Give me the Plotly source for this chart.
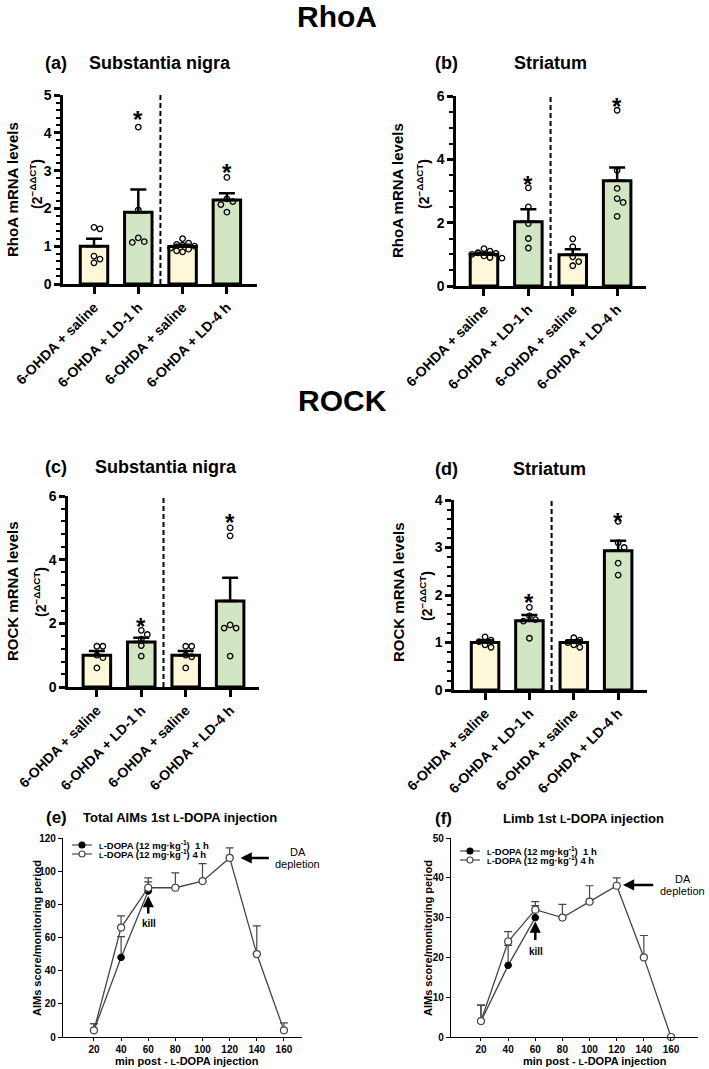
import numpy as np
import plotly.graph_objects as go

W, H = 709, 1069
FONT = "Liberation Sans, Arial, Helvetica, sans-serif"

# ---------------- data ----------------
categories = ["6-OHDA + saline", "6-OHDA + LD-1 h", "6-OHDA + saline", "6-OHDA + LD-4 h"]
bar_colors = ["#FDF8DA", "#D3E6C4", "#FDF8DA", "#D3E6C4"]

# (a) RhoA - Substantia nigra
a_mean = [1.00, 1.90, 0.99, 2.22]
a_sem = [0.20, 0.60, 0.05, 0.18]
a_pts = [[1.50, 1.46, 0.74, 0.66, 0.56],
         [4.15, 1.96, 1.22, 1.12, 1.10],
         [1.20, 1.08, 1.05, 1.03, 1.00, 0.95, 0.92, 0.88, 0.85],
         [2.82, 2.25, 2.18, 2.10, 1.90]]
a_star = [None, 4.50, None, 3.12]

# (b) RhoA - Striatum
b_mean = [1.00, 2.03, 0.99, 3.32]
b_sem = [0.05, 0.39, 0.17, 0.42]
b_pts = [[1.18, 1.10, 1.05, 1.03, 1.00, 0.95, 0.90, 0.88],
         [3.10, 2.50, 1.97, 1.50, 1.20],
         [1.49, 1.24, 0.92, 0.77, 0.64],
         [5.55, 3.65, 3.08, 2.76, 2.64, 2.20]]
b_star = [None, 3.39, None, 5.86]

# (c) ROCK - Substantia nigra
c_mean = [1.00, 1.41, 1.00, 2.70]
c_sem = [0.13, 0.14, 0.13, 0.73]
c_pts = [[1.28, 1.28, 1.00, 0.92, 0.60],
         [1.78, 1.65, 1.50, 1.30, 0.97],
         [1.28, 1.28, 1.00, 0.95, 0.60],
         [5.00, 4.75, 1.95, 1.85, 1.85, 0.97]]
c_star = [None, 2.10, None, 5.35]

# (d) ROCK - Striatum
d_mean = [1.00, 1.46, 1.00, 2.93]
d_sem = [0.05, 0.12, 0.05, 0.21]
d_pts = [[1.12, 1.05, 1.02, 0.95, 0.90],
         [1.74, 1.56, 1.48, 1.45, 1.09],
         [1.10, 1.05, 1.00, 0.95, 0.90],
         [3.55, 3.10, 3.00, 2.67, 2.42]]
d_star = [None, 1.96, None, 3.68]

# (e) / (f) AIMs time course
time_1h = [20, 40, 60]
time_4h = [20, 40, 60, 80, 100, 120, 140, 160]
e_1h = [4, 48, 88]
e_1h_err = [4, 12.5, 5.5]
e_4h = [4, 66, 90, 90, 94, 108, 50, 4]
e_4h_err = [4, 7, 6, 9, 10.5, 6, 17, 4.5]
f_1h = [4, 18, 30]
f_1h_err = [4, 5, 3]
f_4h = [4, 24, 32, 30, 34, 38, 20, 0]
f_4h_err = [4, 2.5, 2, 3.3, 4, 2, 5.5, 0]

x_ticks_time = [20, 40, 60, 80, 100, 120, 140, 160]

# ---------------- helpers ----------------
def PX(px):
    return px / W


def PY(py):
    return 1 - py / H


def sfx(i):
    return "" if i == 1 else str(i)


def swarm(values, xpx_per_unit, ypx_per_unit, diam=6.0):
    placed = []
    offs = []
    step = diam * 1.0
    cands = [0.0]
    for j in range(1, 8):
        cands += [j * step, -j * step]
    for v in values:
        yp = v * ypx_per_unit
        for c in cands:
            if all((c - px) ** 2 + (yp - py) ** 2 >= diam ** 2 for px, py in placed):
                placed.append((c, yp))
                offs.append(c / xpx_per_unit)
                break
    return offs

SC_L = "<span style='font-size:0.8em'>L</span>"

fig = go.Figure()
layout = dict(width=W, height=H, margin=dict(l=0, r=0, t=0, b=0, autoexpand=False),
              paper_bgcolor="white", plot_bgcolor="white", showlegend=False,
              font=dict(family=FONT, color="black"))
annotations = []
shapes = []

# ---------------- bar panels ----------------
bar_panels = [
    dict(mean=a_mean, sem=a_sem, pts=a_pts, star=a_star, ymax=5, dtick=1, minor=0.2,
         xd=(63, 257), yd=(284, 95), xr=(-0.70, 3.68)),
    dict(mean=b_mean, sem=b_sem, pts=b_pts, star=b_star, ymax=6, dtick=2, minor=0.5,
         xd=(456, 646), yd=(286, 96), xr=(-0.63, 3.65)),
    dict(mean=c_mean, sem=c_sem, pts=c_pts, star=c_star, ymax=6, dtick=2, minor=0.4,
         xd=(68, 259), yd=(687, 496), xr=(-0.65, 3.65)),
    dict(mean=d_mean, sem=d_sem, pts=d_pts, star=d_star, ymax=4, dtick=1, minor=0.2,
         xd=(454, 647), yd=(690, 500), xr=(-0.70, 3.65)),
]

xcat = list(range(len(categories)))
for i, p in enumerate(bar_panels, start=1):
    xa, ya = "x" + sfx(i), "y" + sfx(i)
    xpx = (p["xd"][1] - p["xd"][0]) / (p["xr"][1] - p["xr"][0])
    ypx = (p["yd"][0] - p["yd"][1]) / p["ymax"]
    fig.add_trace(go.Bar(
        x=xcat, y=p["mean"], width=0.62, xaxis=xa, yaxis=ya,
        marker=dict(color=bar_colors, line=dict(color="black", width=3)),
        error_y=dict(type="data", symmetric=False, array=p["sem"],
                     arrayminus=[0] * 4, color="black", thickness=2.5, width=8),
    ))
    px_, py_ = [], []
    for k, vals in enumerate(p["pts"]):
        offs = swarm(vals, xpx, ypx)
        px_ += [k + o for o in offs]
        py_ += vals
    fig.add_trace(go.Scatter(
        x=px_, y=py_, mode="markers", xaxis=xa, yaxis=ya, cliponaxis=False,
        marker=dict(symbol="circle-open", size=5.5, color="black", line=dict(width=1.3)),
    ))
    for k, s in enumerate(p["star"]):
        if s is not None:
            annotations.append(dict(x=k, y=s, xref=xa, yref=ya, text="*", showarrow=False,
                                    font=dict(size=24, family=FONT, weight="bold"),
                                    yshift=-6))
    shapes.append(dict(type="line", xref=xa, yref=ya + " domain", x0=1.5, x1=1.5, y0=0, y1=1,
                       line=dict(color="black", width=2, dash="5px,3px")))
    layout["xaxis" + sfx(i)] = dict(
        domain=[PX(p["xd"][0]), PX(p["xd"][1])], range=list(p["xr"]), anchor=ya,
        automargin=False,
        tickvals=xcat, ticktext=categories, tickangle=-45,
        ticks="outside", ticklen=7, tickwidth=2.5, tickcolor="black",
        showline=True, linewidth=2.5, linecolor="black",
        showgrid=False, zeroline=False,
        tickfont=dict(size=14, family=FONT, weight="bold"))
    layout["yaxis" + sfx(i)] = dict(
        domain=[PY(p["yd"][0]), PY(p["yd"][1])], range=[0, p["ymax"]], anchor=xa,
        automargin=False,
        tick0=0, dtick=p["dtick"], ticks="outside", ticklen=6, tickwidth=2.5,
        tickcolor="black",
        minor=dict(dtick=p["minor"], ticks="outside", ticklen=4, tickwidth=2, tickcolor="black"),
        showline=True, linewidth=2.5, linecolor="black",
        showgrid=False, zeroline=False,
        tickfont=dict(size=14, family=FONT, weight="bold"))

# ---------------- line panels ----------------
line_panels = [
    dict(y1=e_1h, e1=e_1h_err, y4=e_4h, e4=e_4h_err, ymax=120, dtick=20,
         xd=(63, 302), yd=(1037, 838), xr=(-2.8, 173.3)),
    dict(y1=f_1h, e1=f_1h_err, y4=f_4h, e4=f_4h_err, ymax=50, dtick=10,
         xd=(451, 698), yd=(1037, 838), xr=(-2.1, 179.9)),
]
LC = "#454545"
for j, p in enumerate(line_panels, start=5):
    xa, ya = "x" + sfx(j), "y" + sfx(j)
    fig.add_trace(go.Scatter(
        x=time_1h, y=p["y1"], mode="lines+markers", xaxis=xa, yaxis=ya, cliponaxis=False,
        line=dict(color=LC, width=1.3),
        marker=dict(symbol="circle", size=6.5, color="black", line=dict(color="black", width=1)),
        error_y=dict(type="data", symmetric=False, array=p["e1"], arrayminus=[0] * 3,
                     color=LC, thickness=1.2, width=4)))
    fig.add_trace(go.Scatter(
        x=time_4h, y=p["y4"], mode="lines+markers", xaxis=xa, yaxis=ya, cliponaxis=False,
        line=dict(color=LC, width=1.3),
        marker=dict(symbol="circle", size=7, color="white", line=dict(color=LC, width=1.2)),
        error_y=dict(type="data", symmetric=False, array=p["e4"], arrayminus=[0] * 8,
                     color=LC, thickness=1.2, width=4)))
    layout["xaxis" + sfx(j)] = dict(
        domain=[PX(p["xd"][0]), PX(p["xd"][1])], range=list(p["xr"]), anchor=ya,
        automargin=False,
        tickvals=x_ticks_time, ticks="outside", ticklen=3, tickwidth=1.2, tickcolor="black",
        showline=True, linewidth=1.3, linecolor="black", showgrid=False, zeroline=False,
        tickfont=dict(size=10, family=FONT, weight="bold"))
    layout["yaxis" + sfx(j)] = dict(
        domain=[PY(p["yd"][0]), PY(p["yd"][1])], range=[0, p["ymax"]], anchor=xa,
        automargin=False,
        tick0=0, dtick=p["dtick"], ticks="outside", ticklen=4, tickwidth=1.2, tickcolor="black",
        showline=True, linewidth=1.3, linecolor="black", showgrid=False, zeroline=False,
        tickfont=dict(size=10, family=FONT, weight="bold"))

# arrows and notes in (e) / (f)
notes = [
    dict(xa="x5", ya="y5", kill=(60, 85, 73.5, 68.5), da=(128, 150, 108), dat=(170, 111.5, 104.5)),
    dict(xa="x6", ya="y6", kill=(60, 29.0, 24.0, 21.6), da=(124.6, 148, 38.2), dat=(168.5, 39.7, 36.6)),
]
for n in notes:
    xa, ya = n["xa"], n["ya"]
    kx, ky, kty, ktext = n["kill"]
    annotations.append(dict(x=kx, y=ky, ax=kx, ay=kty, xref=xa, yref=ya, axref=xa, ayref=ya,
                            text="", showarrow=True, arrowhead=2, arrowsize=0.9, arrowwidth=2.5,
                            arrowcolor="black"))
    annotations.append(dict(x=kx + 0.5, y=ktext, xref=xa, yref=ya, text="kill", showarrow=False,
                            font=dict(size=10, family=FONT, weight="bold")))
    hx, tx, dy = n["da"]
    annotations.append(dict(x=hx, y=dy, ax=tx, ay=dy, xref=xa, yref=ya, axref=xa, ayref=ya,
                            text="", showarrow=True, arrowhead=2, arrowsize=0.9, arrowwidth=2.5,
                            arrowcolor="black"))
    dx, dy1, dy2 = n["dat"]
    annotations.append(dict(x=dx, y=dy1, xref=xa, yref=ya, text="DA", showarrow=False,
                            font=dict(size=11, family=FONT)))
    annotations.append(dict(x=dx, y=dy2, xref=xa, yref=ya, text="depletion", showarrow=False,
                            font=dict(size=11, family=FONT)))

# manual legends
leg_label_1h = SC_L + "-DOPA (12 mg·kg<sup>-1</sup>)  1 h"
leg_label_4h = SC_L + "-DOPA (12 mg·kg<sup>-1</sup>) 4 h"
for (lx0, lx1, mx, tx, r1, r2) in [(72, 92, 82, 97, 845, 854), (460, 480, 470, 485, 851, 860)]:
    for ry, filled, lab in [(r1, True, leg_label_1h), (r2, False, leg_label_4h)]:
        shapes.append(dict(type="line", xref="paper", yref="paper", x0=PX(lx0), x1=PX(lx1),
                           y0=PY(ry), y1=PY(ry), line=dict(color=LC, width=1.2)))
        shapes.append(dict(type="circle", xref="paper", yref="paper",
                           x0=PX(mx - 3), x1=PX(mx + 3), y0=PY(ry + 3), y1=PY(ry - 3),
                           fillcolor="black" if filled else "white",
                           line=dict(color="black" if filled else LC, width=1.1)))
        annotations.append(dict(x=PX(tx), y=PY(ry), xref="paper", yref="paper", text=lab,
                                xanchor="left", yanchor="middle", showarrow=False,
                                font=dict(size=9.5, family=FONT, weight="bold")))

# ---------------- titles / labels ----------------
def txt(x, y, s, size, bold=True, angle=0, xanchor="center"):
    annotations.append(dict(x=PX(x), y=PY(y), xref="paper", yref="paper", text=s,
                            showarrow=False, textangle=angle, xanchor=xanchor, yanchor="middle",
                            font=dict(size=size, family=FONT, weight="bold" if bold else "normal")))

txt(337, 16, "RhoA", 30)
txt(342, 400, "ROCK", 30)
txt(56, 63, "(a)", 18)
txt(160, 63, "Substantia nigra", 18)
txt(446, 63, "(b)", 18)
txt(550, 63, "Striatum", 18)
txt(56, 467, "(c)", 18)
txt(166, 467, "Substantia nigra", 18)
txt(446, 469, "(d)", 18)
txt(549, 469, "Striatum", 18)
txt(56, 817, "(e)", 17)
txt(180, 817, "Total AIMs 1st " + SC_L + "-DOPA injection", 13)
txt(443, 818, "(f)", 17)
txt(583, 818, "Limb 1st " + SC_L + "-DOPA injection", 13)

sub = "(2<sup>\u2212\u0394\u0394CT</sup>)"
for (mx, sx, cy, scy, name) in [(12, 36, 190, 184, "RhoA mRNA levels"),
                                (397, 423, 191, 184, "RhoA mRNA levels"),
                                (12, 40, 592, 592, "ROCK mRNA levels"),
                                (398, 426, 593, 596, "ROCK mRNA levels")]:
    txt(mx, cy, name, 15, angle=-90)
    txt(sx, scy, sub, 14, angle=-90)

txt(37, 938, "AIMs score/monitoring period", 11, angle=-90)
txt(428, 938, "AIMs score/monitoring period", 11, angle=-90)
txt(187, 1061, "min post - " + SC_L + "-DOPA injection", 11)
txt(595, 1061, "min post - " + SC_L + "-DOPA injection", 11)

layout["annotations"] = annotations
layout["shapes"] = shapes
fig.update_layout(**layout)
fig.write_html("out.html", config={"displayModeBar": False},
               post_script="document.body.style.margin='0';document.body.style.overflow='hidden';")
